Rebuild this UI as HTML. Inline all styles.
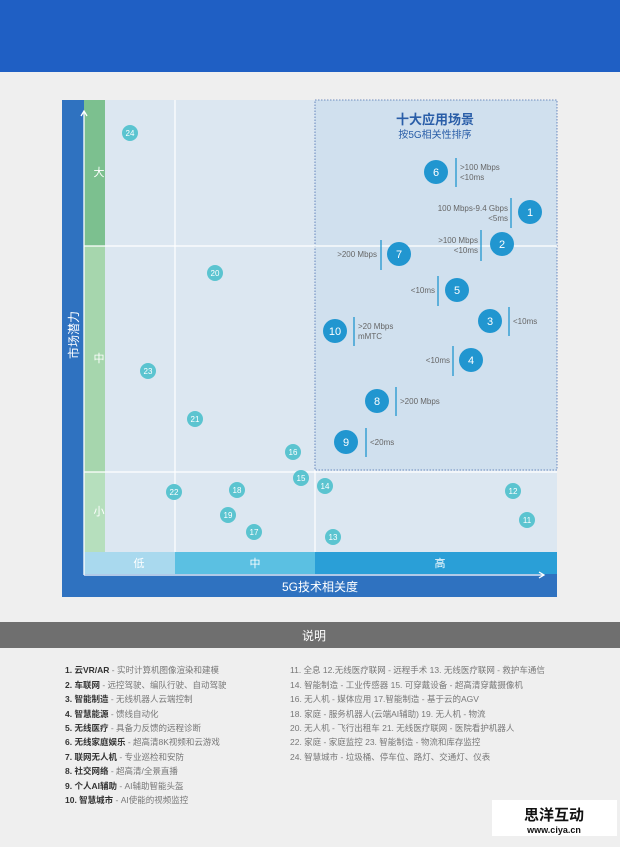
<!DOCTYPE html>
<html><head><meta charset="utf-8"><style>
body{margin:0;width:620px;height:842px;background:#efefef;font-family:"Liberation Sans","Noto Sans CJK SC",sans-serif;overflow:hidden}
</style></head><body>
<svg width="620" height="842" xmlns="http://www.w3.org/2000/svg" font-family="Liberation Sans, Noto Sans CJK SC, sans-serif">
<rect x="0" y="0" width="620" height="72" fill="#1f5fc4"/>
<rect x="62" y="100" width="495" height="497" fill="#2f72c0"/>
<rect x="105" y="100" width="452" height="452" fill="#dce7f1"/>
<rect x="315" y="100" width="242" height="370" fill="#d0e0ee" stroke="#4a6fb0" stroke-width="0.8" stroke-dasharray="1.5,1.5"/>
<rect x="84" y="100" width="21" height="146" fill="#7cc08f"/>
<rect x="84" y="246" width="21" height="226" fill="#a6d6ad"/>
<rect x="84" y="472" width="21" height="80" fill="#b6dfbd"/>
<g stroke="#fff" stroke-width="1.2"><line x1="175" y1="100" x2="175" y2="552"/><line x1="315" y1="470" x2="315" y2="552"/><line x1="175" y1="100" x2="175" y2="100"/><line x1="84" y1="246" x2="557" y2="246"/><line x1="84" y1="472" x2="557" y2="472"/></g>
<rect x="84" y="552" width="91" height="22" fill="#a9d9ee"/>
<rect x="175" y="552" width="140" height="22" fill="#5bc0e2"/>
<rect x="315" y="552" width="242" height="22" fill="#2a9fd7"/>
<g stroke="#fff" stroke-width="1.3" fill="none"><line x1="84" y1="575" x2="84" y2="112"/><polyline points="81,116 84,111 87,116"/><line x1="84" y1="575" x2="543" y2="575"/><polyline points="539,572 544,575 539,578"/></g>
<g fill="#fff" font-size="11" text-anchor="middle"><text x="139" y="567">低</text><text x="255" y="567">中</text><text x="440" y="567">高</text>
<text x="99" y="176">大</text><text x="99" y="362">中</text><text x="99" y="515">小</text>
<text x="320" y="591" font-size="12">5G技术相关度</text>
<text transform="translate(78,335) rotate(-90)" font-size="12">市场潜力</text></g>
<text x="435" y="124" text-anchor="middle" font-size="13" font-weight="bold" fill="#2a5ea8">十大应用场景</text>
<text x="435" y="138" text-anchor="middle" font-size="10" fill="#2a5ea8">按5G相关性排序</text>
<g fill="#5bc4d0"><circle cx="130" cy="133" r="8"/><circle cx="215" cy="273" r="8"/><circle cx="148" cy="371" r="8"/><circle cx="195" cy="419" r="8"/><circle cx="293" cy="452" r="8"/><circle cx="301" cy="478" r="8"/><circle cx="325" cy="486" r="8"/><circle cx="174" cy="492" r="8"/><circle cx="237" cy="490" r="8"/><circle cx="228" cy="515" r="8"/><circle cx="254" cy="532" r="8"/><circle cx="333" cy="537" r="8"/><circle cx="513" cy="491" r="8"/><circle cx="527" cy="520" r="8"/></g>
<g fill="#fff" font-size="8" text-anchor="middle"><text x="130" y="136">24</text><text x="215" y="276">20</text><text x="148" y="374">23</text><text x="195" y="422">21</text><text x="293" y="455">16</text><text x="301" y="481">15</text><text x="325" y="489">14</text><text x="174" y="495">22</text><text x="237" y="493">18</text><text x="228" y="518">19</text><text x="254" y="535">17</text><text x="333" y="540">13</text><text x="513" y="494">12</text><text x="527" y="523">11</text></g>
<g fill="#2196d0"><circle cx="436" cy="172" r="12"/><circle cx="530" cy="212" r="12"/><circle cx="502" cy="244" r="12"/><circle cx="399" cy="254" r="12"/><circle cx="457" cy="290" r="12"/><circle cx="490" cy="321" r="12"/><circle cx="335" cy="331" r="12"/><circle cx="471" cy="360" r="12"/><circle cx="377" cy="401" r="12"/><circle cx="346" cy="442" r="12"/></g>
<g fill="#fff" font-size="11" text-anchor="middle"><text x="436" y="176">6</text><text x="530" y="216">1</text><text x="502" y="248">2</text><text x="399" y="258">7</text><text x="457" y="294">5</text><text x="490" y="325">3</text><text x="335" y="335">10</text><text x="471" y="364">4</text><text x="377" y="405">8</text><text x="346" y="446">9</text></g>
<g stroke="#2196d0" stroke-width="1.3"><line x1="456" y1="158" x2="456" y2="187"/><line x1="511" y1="198" x2="511" y2="228"/><line x1="481" y1="230" x2="481" y2="261"/><line x1="381" y1="240" x2="381" y2="270"/><line x1="438" y1="276" x2="438" y2="306"/><line x1="509" y1="307" x2="509" y2="336"/><line x1="354" y1="317" x2="354" y2="346"/><line x1="453" y1="346" x2="453" y2="376"/><line x1="396" y1="387" x2="396" y2="416"/><line x1="366" y1="428" x2="366" y2="457"/></g>
<g fill="#666" font-size="8"><text x="460" y="170">&gt;100 Mbps</text><text x="460" y="180">&lt;10ms</text>
<text x="508" y="211" text-anchor="end">100 Mbps-9.4 Gbps</text><text x="508" y="221" text-anchor="end">&lt;5ms</text>
<text x="478" y="243" text-anchor="end">&gt;100 Mbps</text><text x="478" y="253" text-anchor="end">&lt;10ms</text>
<text x="377" y="257" text-anchor="end">&gt;200 Mbps</text><text x="435" y="293" text-anchor="end">&lt;10ms</text>
<text x="513" y="324">&lt;10ms</text><text x="358" y="329">&gt;20 Mbps</text><text x="358" y="339">mMTC</text>
<text x="450" y="363" text-anchor="end">&lt;10ms</text><text x="400" y="404">&gt;200 Mbps</text><text x="370" y="445">&lt;20ms</text></g>
<rect x="0" y="622" width="620" height="26" fill="#6f6f6f"/>
<text x="314" y="640" text-anchor="middle" fill="#fff" font-size="12">说明</text>
<g font-size="8.5" fill="#777">
<text x="65" y="673"><tspan fill="#333" font-weight="bold">1. 云VR/AR</tspan> - 实时计算机图像渲染和建模</text>
<text x="65" y="688"><tspan fill="#333" font-weight="bold">2. 车联网</tspan> - 远控驾驶、编队行驶、自动驾驶</text>
<text x="65" y="702"><tspan fill="#333" font-weight="bold">3. 智能制造</tspan> - 无线机器人云端控制</text>
<text x="65" y="717"><tspan fill="#333" font-weight="bold">4. 智慧能源</tspan> - 馈线自动化</text>
<text x="65" y="731"><tspan fill="#333" font-weight="bold">5. 无线医疗</tspan> - 具备力反馈的远程诊断</text>
<text x="65" y="745"><tspan fill="#333" font-weight="bold">6. 无线家庭娱乐</tspan> - 超高清8K视频和云游戏</text>
<text x="65" y="760"><tspan fill="#333" font-weight="bold">7. 联网无人机</tspan> - 专业巡检和安防</text>
<text x="65" y="774"><tspan fill="#333" font-weight="bold">8. 社交网络</tspan> - 超高清/全景直播</text>
<text x="65" y="789"><tspan fill="#333" font-weight="bold">9. 个人AI辅助</tspan> - AI辅助智能头盔</text>
<text x="65" y="803"><tspan fill="#333" font-weight="bold">10. 智慧城市</tspan> - AI使能的视频监控</text>
<text x="290" y="673">11. 全息  12.无线医疗联网 - 远程手术  13. 无线医疗联网 - 救护车通信</text>
<text x="290" y="688">14. 智能制造 - 工业传感器  15. 可穿戴设备 - 超高清穿戴摄像机</text>
<text x="290" y="702">16. 无人机 - 媒体应用  17.智能制造 - 基于云的AGV</text>
<text x="290" y="717">18. 家庭 - 服务机器人(云端AI辅助)  19. 无人机 - 物流</text>
<text x="290" y="731">20. 无人机 - 飞行出租车  21. 无线医疗联网 - 医院看护机器人</text>
<text x="290" y="745">22. 家庭 - 家庭监控  23. 智能制造 - 物流和库存监控</text>
<text x="290" y="760">24. 智慧城市 - 垃圾桶、停车位、路灯、交通灯、仪表</text></g>
<rect x="492" y="800" width="125" height="36" fill="#fff"/>
<text x="554" y="820" text-anchor="middle" font-size="15" font-weight="bold" fill="#111">思洋互动</text>
<text x="554" y="833" text-anchor="middle" font-size="9" font-weight="bold" fill="#111">www.ciya.cn</text>
</svg>
</body></html>
